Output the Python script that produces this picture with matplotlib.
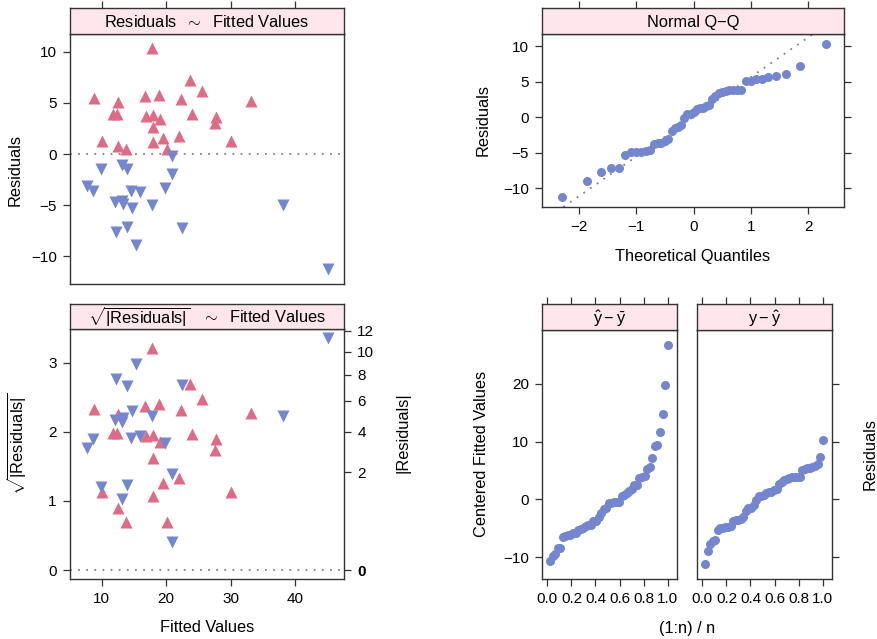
import numpy as np
import matplotlib
matplotlib.use("Agg")
import matplotlib.pyplot as plt
from statistics import NormalDist

plt.rcParams['font.family'] = ['Liberation Sans', 'DejaVu Sans']
plt.rcParams['mathtext.fontset'] = 'custom'
plt.rcParams['mathtext.rm'] = 'Liberation Sans'
plt.rcParams['mathtext.it'] = 'Liberation Sans:italic'

# Daten (Fitted Values / Residuals)
fitted = [8.85, 10.0, 11.8, 12.3, 12.6, 12.6, 13.7, 16.7, 16.9, 17.8, 18.0, 18.0, 17.9,
          18.95, 19.1, 19.5, 20.1, 22.0, 22.3, 23.7, 24.0, 25.6, 27.8, 27.6, 30.0, 33.2,
          7.76, 8.65, 9.9, 12.1, 12.27, 13.1, 13.35, 13.2, 14.0, 13.9, 14.6, 14.7, 15.3,
          16.0, 17.8, 19.8, 20.9, 20.96, 22.5, 38.1, 45.1]
residuals = [5.44, 1.27, 3.91, 3.91, 5.11, 0.81, 0.49, 5.67, 3.75, 10.33, 3.81, 2.61, 1.14,
             5.77, 3.42, 1.6, 0.49, 1.76, 5.34, 7.27, 3.88, 6.16, 3.59, 3.0, 1.27, 5.18,
             -3.1, -3.58, -1.43, -4.72, -7.66, -1.07, -4.84, -4.62, -1.5, -7.1, -3.65, -5.31, -8.9,
             -3.75, -4.95, -3.36, -0.16, -1.95, -7.2, -4.95, -11.27]

fit_ticks = [10, 20, 30, 40]
res_ticks = [-10, -5, 0, 5, 10]
sqrt_ticks = [0, 1, 2, 3]
abs_ticks = [0, 2, 4, 6, 8, 10, 12]
qq_ticks = [-2, -1, 0, 1, 2]
frac_ticks = [0.0, 0.2, 0.4, 0.6, 0.8, 1.0]
frac_labels = ['0.0', '0.2', '0.4', '0.6', '0.8', '1.0']
rfs_ticks = [-10, 0, 10, 20]

RED = '#E16A86'
BLUE = '#7486CF'
STRIP = '#FFE5EC'
EDGE = '#333333'
DOT = (0, (1, 3.5))
TICKFS = 11
LABFS = 11.8

W, H = 878, 639
fig = plt.figure(figsize=(W / 100, H / 100), dpi=100)


def rect(x0, y0, x1, y1):
    return [x0 / W, 1 - y1 / H, (x1 - x0) / W, (y1 - y0) / H]


def panel(x0, x1, ys, yp, yb, xlim, ylim, strip_text, top_ticks=None):
    ax = fig.add_axes(rect(x0, yp, x1, yb))
    ax.set_xlim(xlim)
    ax.set_ylim(ylim)
    for s in ax.spines.values():
        s.set_color(EDGE)
        s.set_linewidth(1)
    ax.tick_params(direction='out', length=5, width=0.9, color=EDGE, labelsize=TICKFS, pad=4.5)
    st = fig.add_axes(rect(x0, ys, x1, yp))
    st.set_facecolor(STRIP)
    st.set_xlim(xlim)
    st.set_yticks([])
    for s in st.spines.values():
        s.set_color(EDGE)
        s.set_linewidth(1)
    if top_ticks is not None:
        st.set_xticks(top_ticks)
        st.tick_params(axis='x', top=True, bottom=False, labeltop=False, labelbottom=False,
                       direction='out', length=5, width=0.9, color=EDGE)
    else:
        st.set_xticks([])
    st.text(0.5, 0.45, strip_text, transform=st.transAxes, ha='center', va='center', fontsize=LABFS)
    return ax


fitted = np.array(fitted)
residuals = np.array(residuals)
pos = residuals >= 0
neg = ~pos
n = len(residuals)

# oben links: Residuals ~ Fitted Values
ax1 = panel(70, 344, 8, 34, 284, (5.08, 47.6), (-12.7, 11.73),
            r'Residuals  $\sim$  Fitted Values', top_ticks=fit_ticks)
ax1.axhline(0, color='#808080', lw=1.3, linestyle=DOT)
ax1.plot(fitted[pos], residuals[pos], '^', color=RED, ms=8, mec='none')
ax1.plot(fitted[neg], residuals[neg], 'v', color=BLUE, ms=8, mec='none')
ax1.set_yticks(res_ticks)
ax1.tick_params(bottom=False, labelbottom=False)

# unten links: sqrt|Residuals| ~ Fitted Values
ax2 = panel(70, 344, 304, 329, 579, (5.08, 47.6), (-0.13, 3.49),
            r'$\sqrt{|\mathrm{Residuals}|}$   $\sim$  Fitted Values')
ax2.axhline(0, color='#808080', lw=1.3, linestyle=DOT)
ax2.plot(fitted[pos], np.sqrt(np.abs(residuals[pos])), '^', color=RED, ms=8, mec='none')
ax2.plot(fitted[neg], np.sqrt(np.abs(residuals[neg])), 'v', color=BLUE, ms=8, mec='none')
ax2.set_xticks(fit_ticks)
ax2.set_yticks(sqrt_ticks)
ax2r = ax2.twinx()
ax2r.set_ylim(ax2.get_ylim())
ax2r.set_yticks(np.sqrt(abs_ticks))
ax2r.set_yticklabels([str(t) for t in abs_ticks])
ax2r.tick_params(direction='out', length=5, width=0.9, color=EDGE, labelsize=TICKFS, pad=4.5)
ax2r.get_yticklabels()[0].set_fontweight('bold')
for s in ax2r.spines.values():
    s.set_visible(False)

# oben rechts: Normal Q-Q
ax3 = panel(542, 844, 8, 34, 207, (-2.645, 2.625), (-12.63, 11.73), 'Normal Q\u2212Q', top_ticks=qq_ticks)
sres = np.sort(residuals)
nd = NormalDist()
theo = np.array([nd.inv_cdf((i - 0.5) / n) for i in range(1, n + 1)])
q1, q3 = np.percentile(residuals, [25, 75])
t1, t3 = nd.inv_cdf(0.25), nd.inv_cdf(0.75)
slope = (q3 - q1) / (t3 - t1)
ax3.axline((t1, q1), slope=slope, color='#808080', lw=1.3, linestyle=DOT)
ax3.plot(theo, sres, 'o', color=BLUE, ms=6.5, mec='none')
ax3.set_xticks(qq_ticks)
ax3.set_yticks(res_ticks)
ax3.tick_params(right=True)

# unten rechts: Residual-Fit Spread
frac = np.arange(1, n + 1) / n
cfit = np.sort(fitted - fitted.mean())
ax4 = panel(542, 677, 304, 330, 579, (-0.045, 1.078), (-13.8, 29.3),
            r'$\hat{\mathrm{y}} - \bar{\mathrm{y}}$', top_ticks=frac_ticks)
ax4.plot(frac, cfit, 'o', color=BLUE, ms=6.5, mec='none')
ax4.set_xticks(frac_ticks)
ax4.set_xticklabels(frac_labels)
ax4.set_yticks(rfs_ticks)

ax5 = panel(697, 832, 304, 330, 579, (-0.045, 1.078), (-13.8, 29.3),
            r'$\mathrm{y} - \hat{\mathrm{y}}$', top_ticks=frac_ticks)
ax5.plot(frac, sres, 'o', color=BLUE, ms=6.5, mec='none')
ax5.set_xticks(frac_ticks)
ax5.set_xticklabels(frac_labels)
ax5.set_yticks(rfs_ticks)
ax5.tick_params(left=False, labelleft=False, right=True)

# Achsenbeschriftungen
def ftext(x, y, s, rot=0):
    fig.text(x / W, 1 - y / H, s, ha='center', va='center', rotation=rot, fontsize=LABFS)

ftext(15, 170, 'Residuals', 90)
ftext(17, 444, r'$\sqrt{|\mathrm{Residuals}|}$', 90)
ftext(207, 627, 'Fitted Values')
ftext(403, 433, '|Residuals|', 90)
ftext(693, 256, 'Theoretical Quantiles')
ftext(483, 120, 'Residuals', 90)
ftext(482, 454, 'Centered Fitted Values', 90)
ftext(687, 628, '(1:n) / n')
ftext(870, 454, 'Residuals', 90)

fig.savefig('out.png', dpi=100)
